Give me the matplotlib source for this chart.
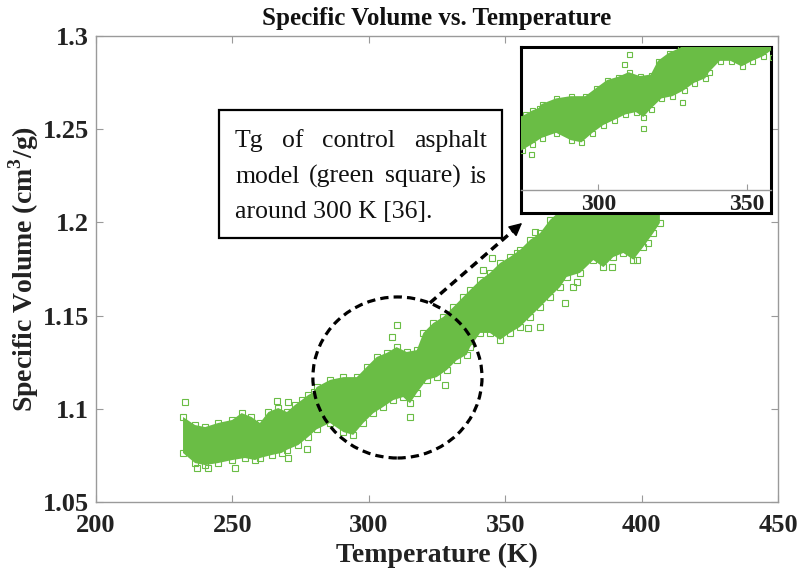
import matplotlib
matplotlib.use("Agg")
import matplotlib.pyplot as plt
import numpy as np
from matplotlib.patches import Ellipse, Rectangle

plt.rcParams["font.family"] = ["Liberation Serif", "DejaVu Serif"]
plt.rcParams["mathtext.fontset"] = "custom"
plt.rcParams["mathtext.rm"] = "Liberation Serif:bold"
plt.rcParams["mathtext.bf"] = "Liberation Serif:bold"

# lower / upper edge of the dense MD point cloud (T in K, v in cm3/g)
LOWER_T = [231.9, 236.3, 240.0, 244.8, 249.9, 254.6, 258.3, 260.1, 264.4, 268.0,
           270.0, 274.2, 277.8, 280.9, 285.8, 290.7, 294.3, 298.0, 301.7, 305.3,
           309.0, 312.6, 315.1, 317.6, 321.2, 324.9, 328.6, 332.2, 335.9, 337.1,
           340.8, 344.4, 348.1, 351.7, 355.4, 359.1, 362.8, 366.4, 370.1, 372.5,
           377.4, 382.3, 386.0, 389.6, 393.3, 397.0, 400.6, 404.3, 406.7]
LOWER_V = [1.0763, 1.0709, 1.0698, 1.0709, 1.0725, 1.0736, 1.0725, 1.0736, 1.0752, 1.0763,
           1.0780, 1.0806, 1.0849, 1.0890, 1.0924, 1.0875, 1.0860, 1.0924, 1.0977, 1.1010,
           1.1047, 1.1063, 1.1030, 1.1085, 1.1155, 1.1170, 1.1208, 1.1260, 1.1290, 1.1330,
           1.1407, 1.1407, 1.1370, 1.1407, 1.1439, 1.1493, 1.1546, 1.1600, 1.1653, 1.1707,
           1.1729, 1.1798, 1.1760, 1.1814, 1.1836, 1.1800, 1.1868, 1.1943, 1.1997]
UPPER_T = [231.9, 236.3, 240.0, 244.8, 249.9, 253.4, 257.0, 260.1, 263.2, 266.8,
           270.0, 272.9, 275.4, 277.8, 279.9, 280.9, 285.8, 290.7, 295.6, 299.2,
           302.9, 306.6, 310.2, 313.9, 317.6, 320.0, 323.6, 327.3, 331.0, 334.6,
           337.1, 340.8, 344.4, 348.1, 351.7, 355.4, 359.1, 362.8, 366.4, 370.0,
           375.0, 380.0, 385.0, 390.0, 395.0, 400.0, 404.0, 406.7]
UPPER_V = [1.0956, 1.0913, 1.0902, 1.0924, 1.0940, 1.0977, 1.0956, 1.0924, 1.0983, 1.1004,
           1.0983, 1.1020, 1.1047, 1.1074, 1.1090, 1.1117, 1.1155, 1.1170, 1.1170, 1.1224,
           1.1278, 1.1300, 1.1331, 1.1305, 1.1315, 1.1407, 1.1460, 1.1493, 1.1546, 1.1600,
           1.1637, 1.1690, 1.1729, 1.1782, 1.1814, 1.1852, 1.1906, 1.1943, 1.2013, 1.2060,
           1.2120, 1.2180, 1.2190, 1.2220, 1.2250, 1.2280, 1.2340, 1.2380]

# isolated points outside the main band
STRAY_T = [232.6, 237.0, 241.0, 251.0, 266.3, 270.4, 270.4, 277.3, 308.5, 310.3,
           315.0, 328.0, 342.0, 345.0, 354.2, 358.5, 361.0, 362.8, 372.0, 375.0,
           376.2, 389.0, 398.2, 402.5]
STRAY_V = [1.1036, 1.0680, 1.0683, 1.0683, 1.1040, 1.1036, 1.0736, 1.0784, 1.1385, 1.1450,
           1.0956, 1.1128, 1.1745, 1.1807, 1.1834, 1.1432, 1.1950, 1.1439, 1.1568, 1.1655,
           1.1682, 1.1762, 1.1798, 1.1888]

X_TICKS = [200, 250, 300, 350, 400, 450]
Y_TICKS = [1.05, 1.1, 1.15, 1.2, 1.25, 1.3]
Y_TICK_LABELS = ["1.05", "1.1", "1.15", "1.2", "1.25", "1.3"]
INSET_TICKS = [300, 350]

NOTE_LINES = [["Tg", "of", "control", "asphalt"],
              ["model", "(green", "square)", "is"],
              ["around 300 K [36]."]]

GREEN = "#6abd45"
GREY = "#9a9a9a"
W, H = 801, 574


def px_box(x0, y0, x1, y1):
    """figure-pixel box (top-left origin) -> add_axes rect"""
    return [x0 / W, 1 - y1 / H, (x1 - x0) / W, (y1 - y0) / H]


def draw_cloud(ax, ms=4.3):
    poly_t = np.r_[LOWER_T, UPPER_T[::-1]]
    poly_v = np.r_[LOWER_V, UPPER_V[::-1]]
    ax.fill(poly_t, poly_v, color=GREEN, lw=0, zorder=2)
    edge_t = np.r_[LOWER_T, UPPER_T, STRAY_T]
    edge_v = np.r_[LOWER_V, UPPER_V, STRAY_V]
    ax.plot(edge_t, edge_v, ls="none", marker="s", ms=ms, mfc="none",
            mec=GREEN, mew=0.8, zorder=2)


fig = plt.figure(figsize=(W / 100, H / 100), dpi=100)
ax = fig.add_axes(px_box(96, 36, 778, 502))
draw_cloud(ax)
ax.set_xlim(200, 450)
ax.set_ylim(1.05, 1.3)
ax.set_xticks(X_TICKS)
ax.set_yticks(Y_TICKS)
ax.set_yticklabels(Y_TICK_LABELS)
ax.tick_params(direction="in", length=5, width=0.8, color=GREY,
               top=True, right=True, labelsize=19, labelcolor="#222222")
ax.tick_params(axis="x", pad=9)
ax.tick_params(axis="y", pad=5)
for lab in ax.get_xticklabels() + ax.get_yticklabels():
    lab.set_fontweight("bold")
for sp in ax.spines.values():
    sp.set_color(GREY)
    sp.set_linewidth(1.0)

ax.set_title("Specific Volume vs. Temperature", fontsize=18,
             fontweight="bold", pad=8, color="#111111")
ax.set_xlabel("Temperature (K)", fontsize=20, fontweight="bold",
              labelpad=4, color="#222222")
ax.set_ylabel(r"Specific Volume (cm$^{3}$/g)", fontsize=20,
              fontweight="bold", labelpad=1, color="#222222")

# dashed circle around the transition region + dashed pointer
ax.add_patch(Ellipse((310.5, 1.1168), 62, 0.0864, fill=False, ec="black",
                     lw=2.3, ls=(0, (2.6, 1.6)), zorder=5))
tail = (322.4, 1.1568)
tip = (356.2, 1.1997)
ax.plot([tail[0], 353.5], [tail[1], 1.1963], color="black", lw=2.5,
        ls=(0, (2.4, 1.5)), zorder=5)
ax.annotate("", xy=tip, xytext=(353.0, 1.1957),
            arrowprops=dict(arrowstyle="-|>", mutation_scale=20, color="black",
                            lw=1.0, shrinkA=0, shrinkB=0), zorder=6)

# note box
fig.patches.append(Rectangle((219 / W, 1 - 238 / H), 283 / W, 128 / H,
                             transform=fig.transFigure, fc="white",
                             ec="black", lw=1.6, zorder=3))
note_size = 18.5
baselines = [147, 183, 218]
rows = []
for words, yb in zip(NOTE_LINES, baselines):
    rows.append([fig.text(0, 1 - yb / H, w, fontsize=note_size, va="baseline",
                          color="#111111", zorder=4) for w in words])
fig.canvas.draw()
renderer = fig.canvas.get_renderer()
x_left, x_right = 235, 487
for i, row in enumerate(rows):
    widths = [t.get_window_extent(renderer).width for t in row]
    gap = (x_right - x_left - sum(widths)) / (len(row) - 1) if len(row) > 1 else 0
    x = x_left
    for t, w in zip(row, widths):
        t.set_x(x / W)
        x += w + gap

# zoomed inset
frame = fig.add_axes(px_box(521, 47, 771, 213))
frame.set_xticks([])
frame.set_yticks([])
frame.set_facecolor("white")
for sp in frame.spines.values():
    sp.set_color("black")
    sp.set_linewidth(2.2)

ins = fig.add_axes(px_box(521, 47, 771, 190))
ins.set_facecolor("none")
draw_cloud(ins, ms=3.6)
ins.set_xlim(274, 358)
ins.set_ylim(1.054, 1.150)
ins.set_xticks(INSET_TICKS)
ins.set_yticks([])
ins.tick_params(axis="x", direction="in", length=4, width=0.8, color=GREY,
                labelsize=17, pad=3, labelcolor="#222222")
for lab in ins.get_xticklabels():
    lab.set_fontweight("bold")
for side in ("top", "left", "right"):
    ins.spines[side].set_visible(False)
ins.spines["bottom"].set_color(GREY)
ins.spines["bottom"].set_linewidth(1.0)

fig.savefig("out.png", dpi=100)
